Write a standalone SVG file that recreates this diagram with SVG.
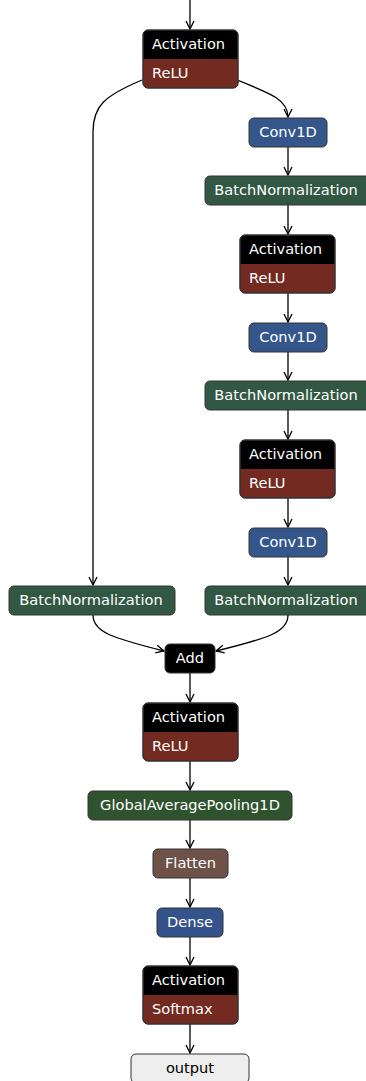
<svg xmlns="http://www.w3.org/2000/svg" width="366" height="1081" viewBox="0 0 366 1081">
  <style>
    text { font-family: "DejaVu Sans", "Liberation Sans", sans-serif; font-size: 14.6px; fill: #ffffff; }
    .mid { text-anchor: middle; }
    .box { stroke: #333333; stroke-width: 1; }
    .act { fill: #000000; }
    .relu { fill: #722a21; }
    .conv { fill: #35568b; }
    .bn { fill: #325843; }
    .gap { fill: #30532f; }
    .flat { fill: #6e5147; }
    .dense { fill: #33538a; }
    .out { fill: #eeeeee; }
    .dark { fill: #000000; }
    .edge { fill: none; stroke: #000000; stroke-width: 1.3; marker-end: url(#arrow); }
  </style>
  <defs>
    <marker id="arrow" markerWidth="10" markerHeight="10" refX="9" refY="5" orient="auto" markerUnits="userSpaceOnUse">
      <path d="M1,1 L9,5 L1,9" fill="none" stroke="#000000" stroke-width="1.3"/>
    </marker>
  </defs>

  <!-- connectors -->
  <g id="connectors">
    <path class="edge" d="M190,0 V29"/>
    <path class="edge" d="M142,80 C104,96 93,106 93,132 V585"/>
    <path class="edge" d="M237,80 C272,94 288,100 288,117"/>
    <path class="edge" d="M288,147 V175"/>
    <path class="edge" d="M288,205 V234"/>
    <path class="edge" d="M288,293 V322"/>
    <path class="edge" d="M288,352 V380"/>
    <path class="edge" d="M288,410 V439"/>
    <path class="edge" d="M288,498 V527"/>
    <path class="edge" d="M288,557 V585"/>
    <path class="edge" d="M93,615 C93,632 112,638 164,651"/>
    <path class="edge" d="M288,615 C288,632 269,638 216,651"/>
    <path class="edge" d="M190,673 V702"/>
    <path class="edge" d="M190,761 V790"/>
    <path class="edge" d="M190,820 V848"/>
    <path class="edge" d="M190,878 V907"/>
    <path class="edge" d="M190,937 V965"/>
    <path class="edge" d="M190,1024 V1053"/>
  </g>

  <!-- nodes -->
  <g id="activation_1">
    <rect class="box relu" x="143" y="30" width="95" height="58" rx="5"/>
    <path class="act" d="M143.5,59 V35 Q143.5,30.5 148,30.5 H233 Q237.5,30.5 237.5,35 V59 Z"/>
    <rect x="143" y="30" width="95" height="58" rx="5" fill="none" stroke="#333333"/>
    <text x="152" y="48.5">Activation</text>
    <text x="152" y="77.5">ReLU</text>
  </g>

  <g id="conv1d_1">
    <rect class="box conv" x="249" y="118" width="78" height="29" rx="5"/>
    <text class="mid" x="288" y="137">Conv1D</text>
  </g>

  <g id="batchnorm_1">
    <rect class="box bn" x="205" y="176" width="166" height="29" rx="5"/>
    <text class="mid" x="286" y="195">BatchNormalization</text>
  </g>

  <g id="activation_2">
    <rect class="box relu" x="240" y="235" width="95" height="58" rx="5"/>
    <path class="act" d="M240.5,264 V240 Q240.5,235.5 245,235.5 H330 Q334.5,235.5 334.5,240 V264 Z"/>
    <rect x="240" y="235" width="95" height="58" rx="5" fill="none" stroke="#333333"/>
    <text x="249" y="253.5">Activation</text>
    <text x="249" y="282.5">ReLU</text>
  </g>

  <g id="conv1d_2">
    <rect class="box conv" x="249" y="323" width="78" height="29" rx="5"/>
    <text class="mid" x="288" y="342">Conv1D</text>
  </g>

  <g id="batchnorm_2">
    <rect class="box bn" x="205" y="381" width="166" height="29" rx="5"/>
    <text class="mid" x="286" y="400">BatchNormalization</text>
  </g>

  <g id="activation_3">
    <rect class="box relu" x="240" y="440" width="95" height="58" rx="5"/>
    <path class="act" d="M240.5,469 V445 Q240.5,440.5 245,440.5 H330 Q334.5,440.5 334.5,445 V469 Z"/>
    <rect x="240" y="440" width="95" height="58" rx="5" fill="none" stroke="#333333"/>
    <text x="249" y="458.5">Activation</text>
    <text x="249" y="487.5">ReLU</text>
  </g>

  <g id="conv1d_3">
    <rect class="box conv" x="249" y="528" width="78" height="29" rx="5"/>
    <text class="mid" x="288" y="547">Conv1D</text>
  </g>

  <g id="batchnorm_3">
    <rect class="box bn" x="205" y="586" width="166" height="29" rx="5"/>
    <text class="mid" x="286" y="605">BatchNormalization</text>
  </g>

  <g id="batchnorm_shortcut">
    <rect class="box bn" x="9" y="586" width="166" height="29" rx="5"/>
    <text class="mid" x="91" y="605">BatchNormalization</text>
  </g>

  <g id="add">
    <rect class="box dark" x="165" y="644" width="50" height="29" rx="5"/>
    <text class="mid" x="190" y="663">Add</text>
  </g>

  <g id="activation_4">
    <rect class="box relu" x="143" y="703" width="95" height="58" rx="5"/>
    <path class="act" d="M143.5,732 V708 Q143.5,703.5 148,703.5 H233 Q237.5,703.5 237.5,708 V732 Z"/>
    <rect x="143" y="703" width="95" height="58" rx="5" fill="none" stroke="#333333"/>
    <text x="152" y="721.5">Activation</text>
    <text x="152" y="750.5">ReLU</text>
  </g>

  <g id="global_average_pooling">
    <rect class="box gap" x="88" y="791" width="204" height="29" rx="5"/>
    <text class="mid" x="190" y="810">GlobalAveragePooling1D</text>
  </g>

  <g id="flatten">
    <rect class="box flat" x="153" y="849" width="75" height="29" rx="5"/>
    <text class="mid" x="190.5" y="868">Flatten</text>
  </g>

  <g id="dense">
    <rect class="box dense" x="157" y="908" width="66" height="29" rx="5"/>
    <text class="mid" x="190" y="927">Dense</text>
  </g>

  <g id="activation_5">
    <rect class="box relu" x="143" y="966" width="95" height="58" rx="5"/>
    <path class="act" d="M143.5,995 V971 Q143.5,966.5 148,966.5 H233 Q237.5,966.5 237.5,971 V995 Z"/>
    <rect x="143" y="966" width="95" height="58" rx="5" fill="none" stroke="#333333"/>
    <text x="152" y="984.5">Activation</text>
    <text x="152" y="1013.5">Softmax</text>
  </g>

  <g id="output">
    <rect class="box out" x="131" y="1054" width="118" height="29" rx="5"/>
    <text class="mid" x="190" y="1073" style="fill:#000000">output</text>
  </g>
</svg>
